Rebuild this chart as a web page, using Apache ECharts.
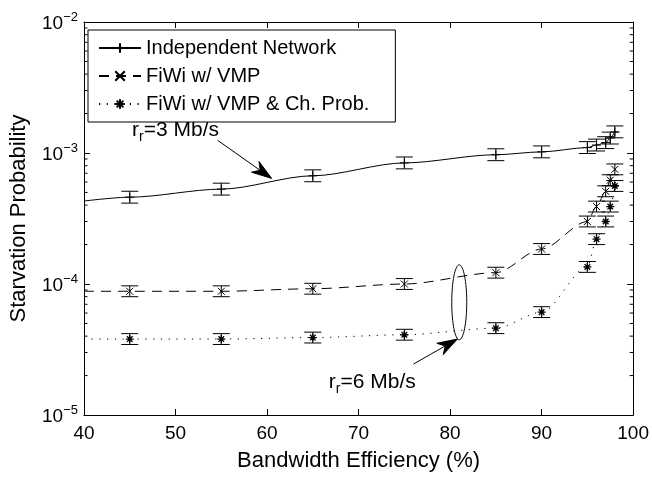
<!DOCTYPE html>
<html><head><meta charset="utf-8">
<script src="https://cdn.jsdelivr.net/npm/echarts@6/dist/echarts.min.js"></script>
<style>html,body{margin:0;padding:0;background:#fff}#c{width:652px;height:477px}</style>
</head><body><div id="c"></div>
<script>
// ---- data ----
const seriesNames = ['Independent Network', 'FiWi w/ VMP', 'FiWi w/ VMP & Ch. Prob.'];
const xVals = [40, 45, 55, 65, 75, 85, 90, 95, 96, 97, 97.5, 98]; // x=40 is line start only (no marker)
const indep = [4.3e-4, 4.6e-4, 5.3e-4, 6.7e-4, 8.4e-4, 9.7e-4, 1.02e-3, 1.10e-3, 1.15e-3, 1.20e-3, 1.30e-3, 1.45e-3];
const vmp   = [8.8e-5, 8.8e-5, 8.8e-5, 9.2e-5, 1.0e-4, 1.22e-4, 1.85e-4, 3.0e-4, 3.9e-4, 5.1e-4, 6.2e-4, 7.5e-4];
const vmpCh = [3.8e-5, 3.8e-5, 3.8e-5, 3.9e-5, 4.1e-5, 4.6e-5, 6.1e-5, 1.35e-4, 2.2e-4, 3.0e-4, 3.9e-4, 5.6e-4];
// relative half-width of the error bars (0 = no bar)
const indepErr = [0, 0.11, 0.11, 0.11, 0.11, 0.11, 0.11, 0.11, 0.11, 0.11, 0.11, 0.11];
const vmpErr   = [0, 0.10, 0.10, 0.10, 0.10, 0.10, 0.10, 0.10, 0.10, 0.10, 0.10, 0.10];
const vmpChErr = [0, 0.10, 0.10, 0.10, 0.10, 0.10, 0.10, 0.10, 0.10, 0.10, 0.10, 0.10];
const xTicks = [40, 50, 60, 70, 80, 90, 100];
const yMin = 1e-5, yMax = 1e-2;
const minorMant = [2, 3, 4, 5, 6, 7, 8, 9];
const decades = [1e-5, 1e-4, 1e-3];
const annot3 = {text: [50.0, 1.45e-3], tail: [54.6, 1.25e-3], head: [60.5, 6.4e-4]};
const annot6 = {text: [71.5, 1.72e-5], tail: [76.0, 2.45e-5], head: [80.8, 3.8e-5], ellipse: [81, 1.4e-4, 3.75e-5]};

// ---- style ----
const FONT = "'Liberation Sans', Arial, sans-serif";
const BLACK = '#000';
const symPlus = 'path://M5,0L5,10M0,5L10,5';
const symX = 'path://M0,0L10,10M10,0L0,10';
const symStar = 'path://M5,0L5,10M0,5L10,5M1.5,1.5L8.5,8.5M8.5,1.5L1.5,8.5';

const chart = echarts.init(document.getElementById('c'), null, {renderer: 'canvas'});

function lineData(vals) {
  return xVals.map((x, i) => i === 0 ? {value: [x, vals[i]], symbol: 'none'} : [x, vals[i]]);
}
function errData(vals, errs) {
  return xVals.map((x, i) => [x, vals[i], errs[i]]).filter(d => d[2] > 0);
}
function errRender(params, api) {
  const x = api.value(0), y = api.value(1), e = api.value(2);
  const hi = api.coord([x, y * (1 + e)]);
  const lo = api.coord([x, y / (1 + e)]);
  const w = 8.5;
  const st = {stroke: BLACK, lineWidth: 1, fill: null};
  return {type: 'group', children: [
    {type: 'line', shape: {x1: hi[0], y1: hi[1], x2: lo[0], y2: lo[1]}, style: st},
    {type: 'line', shape: {x1: hi[0] - w, y1: hi[1], x2: hi[0] + w, y2: hi[1]}, style: st},
    {type: 'line', shape: {x1: lo[0] - w, y1: lo[1], x2: lo[0] + w, y2: lo[1]}, style: st}
  ]};
}
const minorData = [];
decades.forEach(d => minorMant.forEach(m => minorData.push([40, m * d])));

function yLabel(v) {
  const e = Math.round(Math.log10(v));
  return '{b|10}{s|\u2212' + Math.abs(e) + '}';
}

const axisCommon = {
  axisLine: {show: true, onZero: false, lineStyle: {color: BLACK, width: 1}},
  axisTick: {show: true, inside: true, length: 6, lineStyle: {color: BLACK}},
  splitLine: {show: false}
};

const option = {
  backgroundColor: '#fff',
  animation: false,
  textStyle: {fontFamily: FONT, color: BLACK},
  grid: {left: 80, right: 16, top: 22, bottom: 47, containLabel: false},
  legend: {
    data: seriesNames,
    orient: 'vertical', left: 88, top: 30,
    itemWidth: 42, itemHeight: 12, itemGap: 8,
    padding: [8, 26, 8, 10],
    borderColor: BLACK, borderWidth: 1, backgroundColor: '#fff',
    textStyle: {fontFamily: FONT, fontSize: 20, color: BLACK},
    selectedMode: false
  },
  xAxis: [
    Object.assign({type: 'value', min: 40, max: 100, interval: 10, position: 'bottom',
      axisLabel: {fontSize: 19, color: BLACK, margin: 9, fontFamily: FONT},
      name: 'Bandwidth Efficiency (%)', nameLocation: 'middle', nameGap: 35,
      nameTextStyle: {fontSize: 22, color: BLACK, fontFamily: FONT}}, axisCommon),
    Object.assign({type: 'value', min: 40, max: 100, interval: 10, position: 'top',
      axisLabel: {show: false}}, axisCommon)
  ],
  yAxis: [
    Object.assign({type: 'log', logBase: 10, min: yMin, max: yMax, position: 'left',
      axisLabel: {formatter: yLabel, margin: 6, rich: {
        b: {fontSize: 19, fontFamily: FONT, color: BLACK, lineHeight: 22, verticalAlign: 'bottom'},
        s: {fontSize: 13, fontFamily: FONT, color: BLACK, lineHeight: 14, verticalAlign: 'top'}
      }},
      name: 'Starvation Probability', nameLocation: 'middle', nameGap: 54,
      nameTextStyle: {fontSize: 22, color: BLACK, fontFamily: FONT}}, axisCommon),
    Object.assign({type: 'log', logBase: 10, min: yMin, max: yMax, position: 'right',
      axisLabel: {show: false}}, axisCommon)
  ],
  series: [
    {name: seriesNames[0], type: 'line', data: lineData(indep), smooth: 0.3, smoothMonotone: 'x',
     symbol: symPlus, symbolSize: 9, showAllSymbol: true,
     lineStyle: {color: BLACK, width: 1, type: 'solid'},
     itemStyle: {color: BLACK, borderColor: BLACK, borderWidth: 1}, z: 3},
    {name: seriesNames[1], type: 'line', data: lineData(vmp), smooth: 0.3, smoothMonotone: 'x',
     symbol: symX, symbolSize: 7, showAllSymbol: true,
     lineStyle: {color: BLACK, width: 1, type: [10, 7]},
     itemStyle: {color: BLACK, borderColor: BLACK, borderWidth: 1}, z: 3},
    {name: seriesNames[2], type: 'line', data: lineData(vmpCh), smooth: 0.3, smoothMonotone: 'x',
     symbol: symStar, symbolSize: 8, showAllSymbol: true,
     lineStyle: {color: BLACK, width: 1, type: [1.2, 6.5]},
     itemStyle: {color: BLACK, borderColor: BLACK, borderWidth: 1.3}, z: 3},
    {type: 'custom', data: errData(indep, indepErr), renderItem: errRender, silent: true, z: 4},
    {type: 'custom', data: errData(vmp, vmpErr), renderItem: errRender, silent: true, z: 4},
    {type: 'custom', data: errData(vmpCh, vmpChErr), renderItem: errRender, silent: true, z: 4},
    {type: 'custom', data: minorData, silent: true, z: 5, renderItem: function (p, api) {
      const a = api.coord([40, api.value(1)]);
      const b = api.coord([100, api.value(1)]);
      const st = {stroke: BLACK, lineWidth: 1};
      return {type: 'group', children: [
        {type: 'line', shape: {x1: a[0], y1: a[1], x2: a[0] + 3.5, y2: a[1]}, style: st},
        {type: 'line', shape: {x1: b[0], y1: b[1], x2: b[0] - 3.5, y2: b[1]}, style: st}
      ]};
    }}
  ]
};
chart.setOption(option);

function px(pt) { return chart.convertToPixel({xAxisIndex: 0, yAxisIndex: 0}, pt); }
function arrow(tailV, headV) {
  const t = px(tailV), h = px(headV);
  const dx = h[0] - t[0], dy = h[1] - t[1];
  const len = Math.sqrt(dx * dx + dy * dy);
  const ux = dx / len, uy = dy / len, L = 20, W = 6.5;
  const bx = h[0] - ux * L, by = h[1] - uy * L;
  const nx = h[0] - ux * (L * 0.7), ny = h[1] - uy * (L * 0.7);
  return [
    {type: 'line', shape: {x1: t[0], y1: t[1], x2: nx, y2: ny}, style: {stroke: BLACK, lineWidth: 1}},
    {type: 'polygon', shape: {points: [h, [bx - uy * W, by + ux * W], [nx, ny], [bx + uy * W, by - ux * W]]},
     style: {fill: BLACK, stroke: BLACK, lineWidth: 1}}
  ];
}
function label(valPt, main, rest) {
  const p = px(valPt);
  return {type: 'text', x: p[0], y: p[1], style: {
    text: '{a|' + main + '}{s|r}{a|' + rest + '}', align: 'center', verticalAlign: 'middle',
    rich: {a: {fontSize: 21, fontFamily: FONT, fill: BLACK, lineHeight: 24, verticalAlign: 'top'},
           s: {fontSize: 14, fontFamily: FONT, fill: BLACK, lineHeight: 24, verticalAlign: 'bottom'}}
  }};
}
const e1 = px([annot6.ellipse[0], annot6.ellipse[1]]);
const e2 = px([annot6.ellipse[0], annot6.ellipse[2]]);
chart.setOption({graphic: [
  label(annot3.text, 'r', '=3 Mb/s'),
  ...arrow(annot3.tail, annot3.head),
  label(annot6.text, 'r', '=6 Mb/s'),
  ...arrow(annot6.tail, annot6.head),
  {type: 'ellipse', shape: {cx: e1[0], cy: (e1[1] + e2[1]) / 2, rx: 7.5, ry: Math.abs(e2[1] - e1[1]) / 2},
   style: {fill: null, stroke: BLACK, lineWidth: 1}}
]});
</script>
</body></html>
